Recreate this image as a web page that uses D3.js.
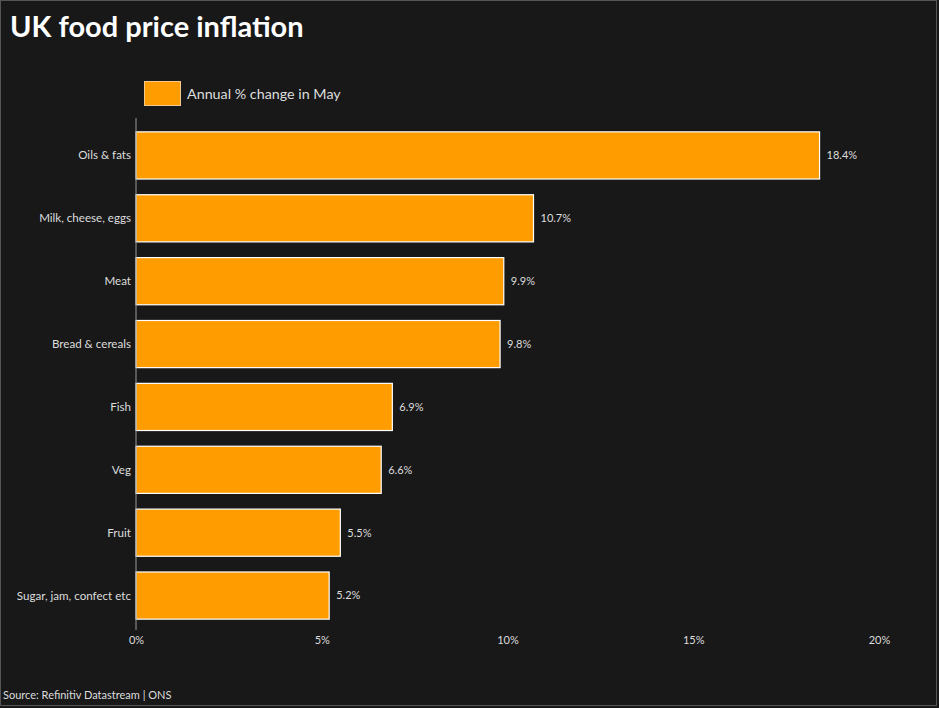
<!DOCTYPE html>
<html>
<head>
<meta charset="utf-8">
<script src="https://cdn.jsdelivr.net/npm/d3@7"></script>
<style>
  html, body { margin: 0; padding: 0; background: #181818; }
  svg { display: block; font-family: Lato, "Open Sans", sans-serif; }
</style>
</head>
<body>
<svg id="chart"></svg>
<script>
const categories = ['Oils & fats', 'Milk, cheese, eggs', 'Meat', 'Bread & cereals', 'Fish', 'Veg', 'Fruit', 'Sugar, jam, confect etc'];
const values = [18.4, 10.7, 9.9, 9.8, 6.9, 6.6, 5.5, 5.2];
const xTicks = [0, 5, 10, 15, 20];

const width = 939;
const height = 708;

const svg = d3.select('#chart')
              .attr('width', width)
              .attr('height', height);

svg.append('rect')
   .attr('x', 0.5).attr('y', 0.5)
   .attr('width', 936).attr('height', 705)
   .attr('fill', '#181818')
   .attr('stroke', '#555')
   .attr('stroke-width', 1);

svg.append('text')
   .attr('x', 10).attr('y', 37)
   .attr('fill', '#fff')
   .attr('font-size', 29)
   .attr('font-weight', 'bold')
   .text('UK food price inflation');

const xScale = d3.scaleLinear().domain([0, 20]).range([136, 879]);
const yScale = d3.scaleBand()
                 .domain(categories)
                 .range([124, 627])
                 .paddingInner(0.25)
                 .paddingOuter(0.125);

// Legend
svg.append('rect')
   .attr('x', 144.5).attr('y', 81.5)
   .attr('width', 36).attr('height', 24)
   .attr('fill', '#ff9c00')
   .attr('stroke', '#f0c890')
   .attr('stroke-width', 1);

svg.append('text')
   .attr('x', 187).attr('y', 99)
   .attr('fill', '#ddd')
   .attr('font-size', 14.3)
   .text('Annual % change in May');

// Bars
svg.selectAll('.bar')
   .data(values)
   .enter()
   .append('rect')
   .attr('class', 'bar')
   .attr('x', xScale(0))
   .attr('y', (d, i) => yScale(categories[i]))
   .attr('width', d => xScale(d) - xScale(0))
   .attr('height', yScale.bandwidth())
   .attr('fill', '#ff9c00')
   .attr('stroke', '#fff')
   .attr('stroke-width', 1.2);

svg.selectAll('.val')
   .data(values)
   .enter()
   .append('text')
   .attr('class', 'val')
   .attr('x', d => xScale(d) + 7)
   .attr('y', (d, i) => yScale(categories[i]) + yScale.bandwidth() / 2)
   .attr('dy', '0.35em')
   .attr('fill', '#ddd')
   .attr('font-size', 11)
   .text(d => d.toFixed(1) + '%');

// Y axis
svg.append('line')
   .attr('x1', 136).attr('x2', 136)
   .attr('y1', 118).attr('y2', 630)
   .attr('stroke', '#999')
   .attr('stroke-width', 1);

svg.selectAll('.cat')
   .data(categories)
   .enter()
   .append('text')
   .attr('class', 'cat')
   .attr('x', 131)
   .attr('y', d => yScale(d) + yScale.bandwidth() / 2)
   .attr('dy', '0.35em')
   .attr('text-anchor', 'end')
   .attr('fill', '#ddd')
   .attr('font-size', 11.6)
   .text(d => d);

// X axis
const xAxis = d3.axisBottom(xScale)
                .tickValues(xTicks)
                .tickSize(0)
                .tickPadding(0)
                .tickFormat(d => d + '%');

const gx = svg.append('g')
              .attr('transform', 'translate(0, 636)')
              .call(xAxis);
gx.select('.domain').remove();
gx.selectAll('text')
  .attr('fill', '#ddd')
  .attr('font-size', 11)
  .attr('font-family', 'Lato, "Open Sans", sans-serif');

svg.append('text')
   .attr('x', 3).attr('y', 699)
   .attr('fill', '#ddd')
   .attr('font-size', 11)
   .text('Source: Refinitiv Datastream | ONS');
</script>
</body>
</html>
